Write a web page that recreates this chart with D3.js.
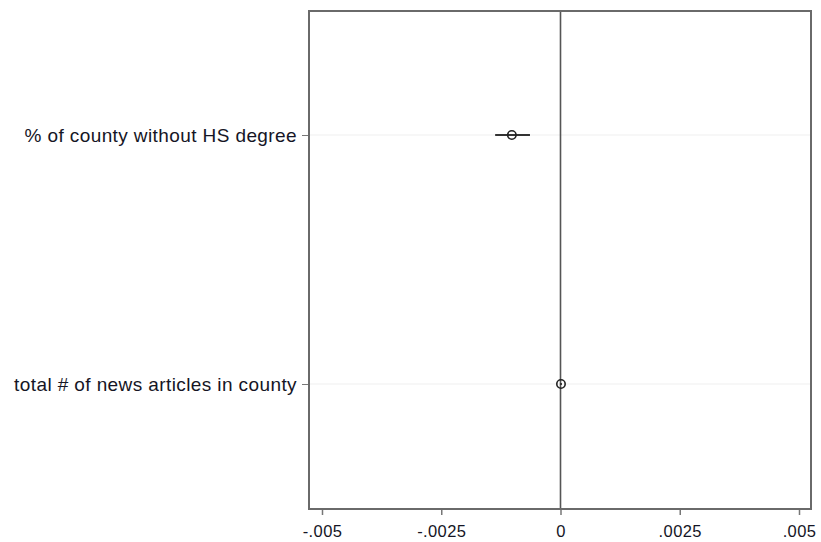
<!DOCTYPE html>
<html><head><meta charset="utf-8">
<script src="https://cdn.jsdelivr.net/npm/d3@7"></script>
<style>body{margin:0;background:#fff;} svg{display:block;font-family:"Liberation Sans",Arial,Helvetica,sans-serif;}</style>
</head><body><svg id="c" width="821" height="542"></svg>
<script>
const categories = ["% of county without HS degree", "total # of news articles in county"];
const estimates = [-0.00102, 0.00001];
const ciLow = [-0.00137, -0.00001];
const ciHigh = [-0.00064, 0.00003];
const xTicks = [-0.005, -0.0025, 0, 0.0025, 0.005];
const xTickLabels = ["-.005", "-.0025", "0", ".0025", ".005"];

const svg = d3.select("#c");
const frame = {l: 309, r: 811, t: 11, b: 509};
const x = d3.scaleLinear().domain([-0.005, 0.005]).range([322, 799]);
const y = d3.scalePoint().domain(categories).range([135, 384]);

// gridlines
svg.selectAll("line.grid").data(categories).enter().append("line")
  .attr("x1", frame.l).attr("x2", frame.r)
  .attr("y1", d => y(d)).attr("y2", d => y(d))
  .attr("stroke", "#efefef").attr("stroke-width", 1);

// zero line
svg.append("line").attr("x1", x(0)).attr("x2", x(0))
  .attr("y1", frame.t).attr("y2", frame.b)
  .attr("stroke", "#555").attr("stroke-width", 1.6);

// frame
svg.append("rect").attr("x", frame.l).attr("y", frame.t)
  .attr("width", frame.r - frame.l).attr("height", frame.b - frame.t)
  .attr("fill", "none").attr("stroke", "#6a6a6a").attr("stroke-width", 2);

// x axis
const xAxis = d3.axisBottom(x).tickValues(xTicks)
  .tickFormat((d, i) => xTickLabels[i]).tickSize(5).tickPadding(10);
const gx = svg.append("g").attr("transform", `translate(0,${frame.b + 1})`).call(xAxis);
gx.select(".domain").remove();
gx.selectAll(".tick line").attr("stroke", "#777").attr("stroke-width", 1.5);
gx.selectAll(".tick text").attr("font-size", 16.5).attr("letter-spacing", "0.4px").attr("fill", "#151525")
  .attr("font-family", "'Liberation Sans',Arial,sans-serif");

// y axis
const yAxis = d3.axisLeft(y).tickSize(6).tickPadding(5);
const gy = svg.append("g").attr("transform", `translate(${frame.l - 1},0)`).call(yAxis);
gy.select(".domain").remove();
gy.selectAll(".tick line").attr("stroke", "#777").attr("stroke-width", 1);
gy.selectAll(".tick text").attr("font-size", 19).attr("letter-spacing", "0.4px").attr("fill", "#151525")
  .attr("font-family", "'Liberation Sans',Arial,sans-serif");

// CIs
svg.selectAll("line.ci").data(categories).enter().append("line")
  .attr("x1", (d, i) => x(ciLow[i])).attr("x2", (d, i) => x(ciHigh[i]))
  .attr("y1", d => y(d)).attr("y2", d => y(d))
  .attr("stroke", "#333").attr("stroke-width", 1.8);

// points
svg.selectAll("circle.pt").data(categories).enter().append("circle")
  .attr("cx", (d, i) => x(estimates[i])).attr("cy", d => y(d)).attr("r", 4.2)
  .attr("fill", "none").attr("stroke", "#222").attr("stroke-width", 1.6);
</script></body></html>
